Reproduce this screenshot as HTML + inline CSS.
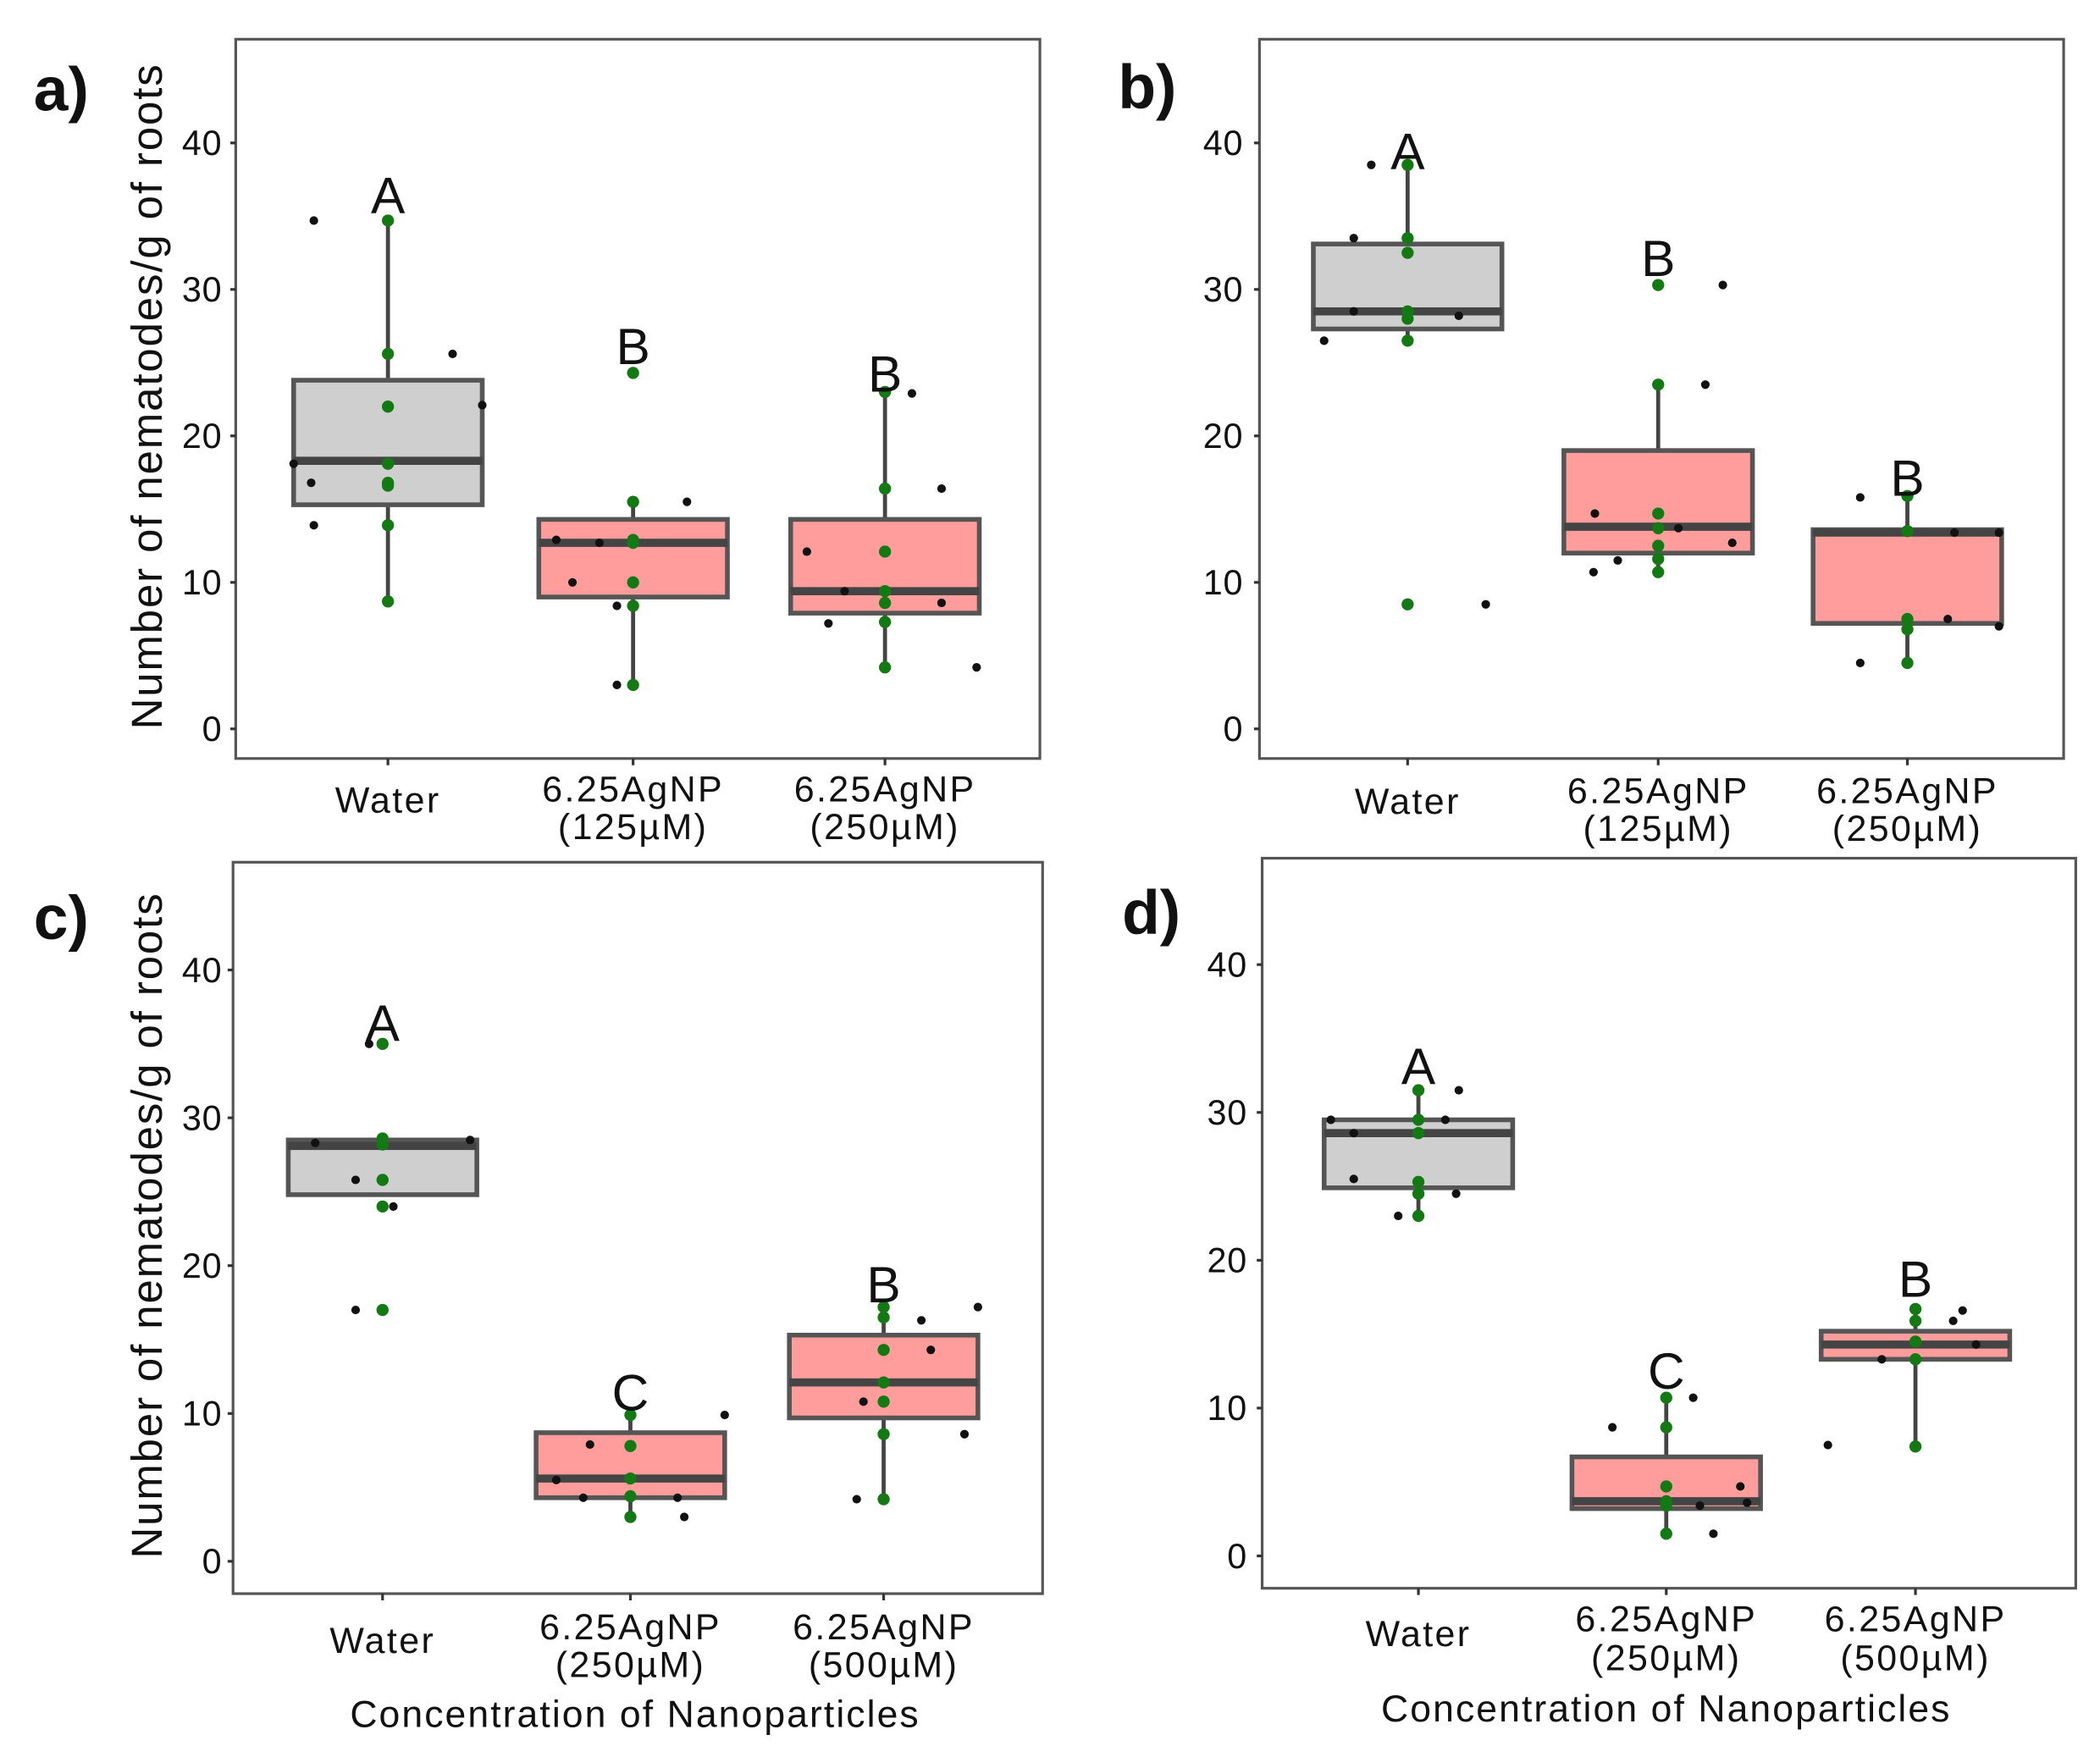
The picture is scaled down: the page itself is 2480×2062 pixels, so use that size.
<!DOCTYPE html>
<html><head><meta charset="utf-8"><style>
html,body{margin:0;padding:0;background:#fff}
svg{display:block}
text{font-family:"Liberation Sans",Arial,sans-serif;fill:#111}
</style></head><body>
<svg id="fig" width="2480" height="2062" viewBox="0 0 1559 1296" xmlns="http://www.w3.org/2000/svg"></svg>
<script>
const tickVals=[0,10,20,30,40];
const catsAB=["Water","6.25AgNP|(125µM)","6.25AgNP|(250µM)"];
const catsCD=["Water","6.25AgNP|(250µM)","6.25AgNP|(500µM)"];
// box stats: [lo, q1, median, q3, hi]
const aBox=[[8.7,15.3,18.3,23.8,34.7],[3,9,12.7,14.3,15.5],[4.2,7.9,9.4,14.3,23]];
const aGreen=[[34.7,25.6,22,18.1,16.8,16.6,13.9,8.7],[24.3,15.5,12.9,12.7,10,8.4,3],[23,16.4,12.1,9.4,8.6,7.3,4.2]];
const aBlack=[[[-55,34.7],[-55,13.9],[-57,16.8],[-70,18.1],[48,25.6],[70,22.1]],[[-57,12.9],[-45,10],[-12,8.4],[-12,3],[-25,12.7],[40,15.5]],[[-58,12.1],[-30,9.4],[-42,7.2],[20,22.9],[42,16.4],[42,8.6],[68,4.2]]];
const aLetters=[["A",36.5],["B",26.2],["B",24.3]];
const bBox=[[26.5,27.3,28.5,33.1,38.5],[10.7,12,13.8,19,23.5],[4.5,7.2,13.4,13.6,15.9]];
const bGreen=[[38.5,33.5,32.5,28.5,28,26.5,8.5],[30.3,23.5,14.7,13.7,12.5,11.6,10.7],[15.9,13.5,7.5,6.8,4.5]];
const bBlack=[[[-27,38.5],[-62,26.5],[-40,33.5],[-40,28.5],[38,28.2],[58,8.5]],[[-47,14.7],[-48,10.7],[-30,11.5],[48,30.3],[35,23.5],[55,12.7],[15,13.7]],[[-35,15.8],[-35,4.5],[0,13.6],[35,13.4],[30,7.5],[68,7],[68,13.4]]];
const bLetters=[["A",39.5],["B",32.2],["B",17.2]];
const cBox=[[null,24.8,28.1,28.5,null],[3,4.3,5.6,8.7,9.9],[4.2,9.7,12.1,15.3,17.2]];
const cGreen=[[35,28.6,28.2,25.8,24,17],[9.9,7.8,5.6,4.4,3],[17.2,16.5,14.3,12.1,10.8,8.6,4.2]];
const cBlack=[[[-50,28.3],[-20,25.8],[-10,35],[-20,17],[8,24],[65,28.5]],[[-30,7.9],[-55,5.5],[-35,4.3],[35,4.3],[40,3],[70,9.9],[0,7.9]],[[-20,4.2],[-15,10.8],[28,16.3],[35,14.3],[60,8.6],[70,17.2]]];
const cLetters=[["A",36.5],["C",11.5],["B",18.8]];
const dBox=[[23,24.9,28.6,29.5,31.5],[1.5,3.2,3.7,6.7,10.7],[7.4,13.3,14.3,15.2,16.7]];
const dGreen=[[31.5,29.5,28.6,25.3,24.5,23],[10.7,8.7,4.7,3.7,3.4,1.5],[16.7,15.9,14.5,13.3,7.4]];
const dBlack=[[[-15,23],[-65,29.5],[-48,28.6],[-48,25.5],[20,29.5],[30,31.5],[28,24.5]],[[-40,8.7],[20,10.7],[25,3.4],[35,1.5],[55,4.7],[60,3.6]],[[-65,7.5],[-25,13.3],[28,15.9],[35,16.6],[45,14.3]]];
const dLetters=[["A",33.2],["C",12.6],["B",18.8]];

const NS="http://www.w3.org/2000/svg";
const svg=document.getElementById('fig');
function mk(tag,attrs,parent,txt){const e=document.createElementNS(NS,tag);for(const k in attrs)e.setAttribute(k,attrs[k]);if(txt!==undefined)e.textContent=txt;(parent||svg).appendChild(e);return e;}

const panels=[
 {id:"a",L:175,R:772,T:29,B:563,y0:541,y40:106,cx:[288,470,657],cats:catsAB,box:aBox,g:aGreen,k:aBlack,let:aLetters,lab:["a)",25,82],tickX:165,catY:[603,595,623],ytitle:true,xtitle:false},
 {id:"b",L:935,R:1532,T:29,B:563,y0:541,y40:106,cx:[1045,1231,1416],cats:catsAB,box:bBox,g:bGreen,k:bBlack,let:bLetters,lab:["b)",830,80],tickX:923,catY:[604,596,624],ytitle:false,xtitle:false},
 {id:"c",L:173,R:774,T:640,B:1183,y0:1159,y40:720,cx:[284,468,656],cats:catsCD,box:cBox,g:cGreen,k:cBlack,let:cLetters,lab:["c)",25,697],tickX:165,catY:[1227,1217,1245],ytitle:true,xtitle:true},
 {id:"d",L:937,R:1541,T:637,B:1179,y0:1155,y40:716,cx:[1053,1237,1422],cats:catsCD,box:dBox,g:dGreen,k:dBlack,let:dLetters,lab:["d)",833,693],tickX:926,catY:[1222,1211,1240],ytitle:false,xtitle:true}
];

panels.forEach(p=>{
 const g=mk('g',{});
 
 
 const y=v=>p.y0+(p.y40-p.y0)*v/40;
 const fr=mk('rect',{x:p.L,y:p.T,width:p.R-p.L,height:p.B-p.T,fill:'none',stroke:'#555','stroke-width':2},g);
 
 
 const pl=mk('text',{x:p.lab[1],y:p.lab[2],'font-size':46,'font-weight':'bold'},g,p.lab[0]);
 
 
 tickVals.forEach(v=>{
  mk('line',{x1:p.L-4,x2:p.L,y1:y(v),y2:y(v),stroke:'#333','stroke-width':2},g);
  const t=mk('text',{x:p.tickX,y:y(v)+9,'font-size':26,'text-anchor':'end','letter-spacing':0.5},g,String(v));
  
  
 });
 p.cats.forEach((c,i)=>{
  mk('line',{x1:p.cx[i],x2:p.cx[i],y1:p.B,y2:p.B+5,stroke:'#333','stroke-width':2},g);
  const parts=c.split('|');
  if(parts.length===1){
   const t=mk('text',{x:p.cx[i],y:p.catY[0],'font-size':27,'text-anchor':'middle','letter-spacing':1.5},g,parts[0]);
   
   
  } else {
   parts.forEach((s,j)=>{
    const t=mk('text',{x:p.cx[i],y:p.catY[1+j],'font-size':27,'text-anchor':'middle','letter-spacing':1.5},g,s);
    
    
   });
  }
  const b=p.box[i], cx=p.cx[i], hw=70;
  const fill=i===0?'#cfcfcf':'#ff9c9c';
  if(b[0]!==null){
   const w=mk('line',{x1:cx,x2:cx,y1:y(b[0]),y2:y(b[4]),stroke:'#444','stroke-width':3},g);
   
   
  }
  const r=mk('rect',{x:cx-hw,y:y(b[3]),width:2*hw,height:y(b[1])-y(b[3]),fill:fill,stroke:'#555','stroke-width':3.5},g);
  
  
  const m=mk('line',{x1:cx-hw,x2:cx+hw,y1:y(b[2]),y2:y(b[2]),stroke:'#444','stroke-width':6},g);
  
  
  p.k[i].forEach(pt=>{
   const d=mk('circle',{cx:cx+pt[0],cy:y(pt[1]),r:3.2,fill:'#111'},g);
   
   
  });
  p.g[i].forEach(v=>{
   const d=mk('circle',{cx:cx,cy:y(v),r:4.5,fill:'#137a13'},g);
   
   
  });
  const lt=mk('text',{x:cx,y:y(p.let[i][1])+14,'font-size':38,'text-anchor':'middle'},g,p.let[i][0]);
  
  
 });
 if(p.ytitle){
  const cy=(p.T+p.B)/2-2;
  const t=mk('text',{x:0,y:0,'font-size':32,'text-anchor':'middle','letter-spacing':1.2,transform:`translate(120,${cy}) rotate(-90)`},g,'Number of nematodes/g of roots');
  
  
 }
 if(p.xtitle){
  const t=mk('text',{x:(p.L+p.R)/2-2,y:p.B+99,'font-size':28,'text-anchor':'middle','letter-spacing':1.3},g,'Concentration of Nanoparticles');
  
  
 }
});
</script>
</body></html>
